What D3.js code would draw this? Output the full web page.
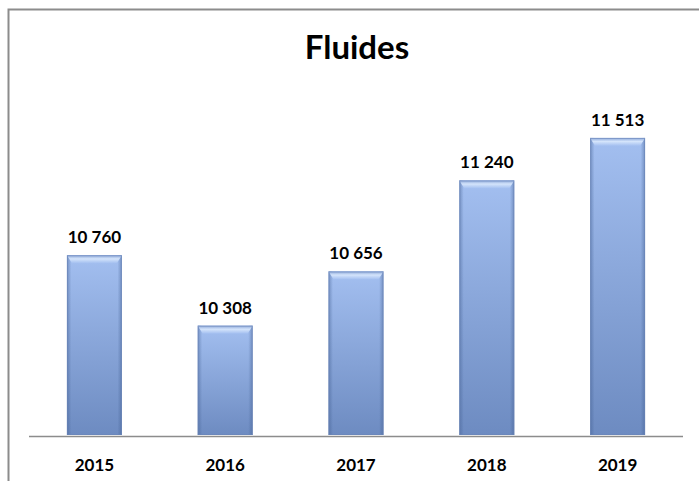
<!DOCTYPE html>
<html><head><meta charset="utf-8">
<script src="https://cdn.jsdelivr.net/npm/d3@7"></script>
<style>body{margin:0;background:#fff}svg{display:block}</style>
</head><body>
<svg id="c" width="699" height="481"></svg>
<script>
const categories = ["2015","2016","2017","2018","2019"];
const values = [10760, 10308, 10656, 11240, 11513];
const valueLabels = ["10 760","10 308","10 656","11 240","11 513"];
const title = "Fluides";

const svg = d3.select("#c");
const font = "Lato, 'Open Sans', sans-serif";

// frame (chart area border, cropped at right/bottom)
svg.append("path").attr("d","M8.5,481 V9.5 H699")
  .attr("fill","none").attr("stroke","#8c8c8c").attr("stroke-width",2);

const x = d3.scaleBand().domain(categories).range([29,683]).padding(0);
const y = d3.scaleLinear().domain([9600,12000]).range([436,62]);
const bw = x.bandwidth()*0.42;

const defs = svg.append("defs");
const gv = defs.append("linearGradient").attr("id","gv").attr("x1",0).attr("y1",0).attr("x2",0).attr("y2",1);
gv.append("stop").attr("offset","0%").attr("stop-color","#a3bff0");
gv.append("stop").attr("offset","100%").attr("stop-color","#6d8bc1");
const gh = defs.append("linearGradient").attr("id","gh").attr("x1",0).attr("y1",0).attr("x2",1).attr("y2",0);
gh.append("stop").attr("offset","0%").attr("stop-color","#3d5a8c").attr("stop-opacity",0.45);
gh.append("stop").attr("offset","8%").attr("stop-color","#3d5a8c").attr("stop-opacity",0.0);
gh.append("stop").attr("offset","92%").attr("stop-color","#3d5a8c").attr("stop-opacity",0.0);
gh.append("stop").attr("offset","100%").attr("stop-color","#3d5a8c").attr("stop-opacity",0.45);
const gt = defs.append("linearGradient").attr("id","gt").attr("x1",0).attr("y1",0).attr("x2",0).attr("y2",1);
gt.append("stop").attr("offset","0%").attr("stop-color","#8aa6d8");
gt.append("stop").attr("offset","45%").attr("stop-color","#d4e4fb");
gt.append("stop").attr("offset","100%").attr("stop-color","#a3bff0");

const g = svg.append("g");
categories.forEach((c,i)=>{
  const x0 = x(c)+(x.bandwidth()-bw)/2, yt = y(values[i]), h = y(9600)-yt - 1;
  g.append("rect").attr("x",x0).attr("y",yt).attr("width",bw).attr("height",h).attr("fill","url(#gv)");
  g.append("rect").attr("x",x0).attr("y",yt).attr("width",bw).attr("height",h).attr("fill","url(#gh)");
  // top bevel
  g.append("path").attr("d",`M${x0},${yt} H${x0+bw} L${x0+bw-5},${yt+8} H${x0+5} Z`).attr("fill","url(#gt)");
  g.append("rect").attr("x",x0+0.5).attr("y",yt+0.5).attr("width",bw-1).attr("height",h-1)
    .attr("fill","none").attr("stroke","#6a86b8").attr("stroke-opacity",0.6);
  svg.append("text").attr("x",x(c)+x.bandwidth()/2).attr("y",yt-12)
    .attr("text-anchor","middle").attr("font-family",font).attr("font-weight","bold")
    .attr("font-size",17).attr("fill","#000").text(valueLabels[i]);
});

// axis
const ax = svg.append("g").attr("transform","translate(0,436)")
  .call(d3.axisBottom(x).tickSize(0).tickPadding(0));
ax.select(".domain").attr("stroke","#8c8c8c").attr("stroke-width",1.5).attr("d","M29,0.5H683");
ax.selectAll("text").attr("font-family",font).attr("font-weight","bold").attr("font-size",17)
  .attr("fill","#000").attr("dy",0).attr("y",35);

svg.append("text").attr("x",357).attr("y",59).attr("text-anchor","middle")
  .attr("font-family",font).attr("font-weight","bold").attr("font-size",33).attr("fill","#000").text(title);
</script>
</body></html>
